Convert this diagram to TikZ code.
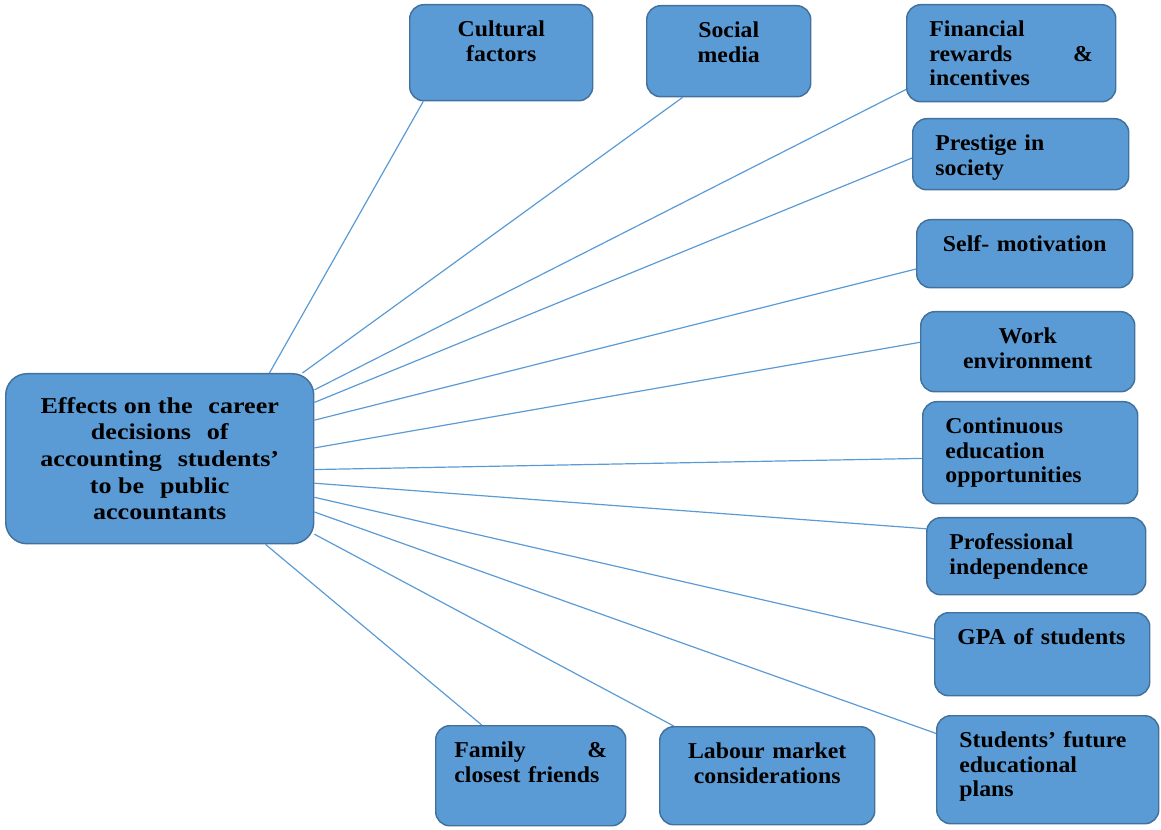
\documentclass[tikz,border=0pt]{standalone}
\usepackage{fontspec}
\setmainfont{Liberation Serif}[FakeStretch=1.05]
\newfontfamily\widefont{Liberation Serif}[FakeStretch=1.15]
\usepackage{tikz}
\definecolor{boxfill}{HTML}{5B9BD5}
\definecolor{boxline}{HTML}{41719C}
\definecolor{linkblue}{HTML}{5B9BD5}
\pgfdeclarelayer{background}
\pgfsetlayers{background,main}

\begin{document}
\begin{tikzpicture}[x=0.75pt, y=-0.75pt,
  box/.style={draw=boxline, fill=boxfill, line width=1.1pt},
  factor/.style 2 args={box, rounded corners=10.5pt, anchor=north west,
    inner xsep=17pt, inner ysep=0pt, text height=24pt,
    text width=#1*0.75pt-34pt, text depth=#2*0.75pt-24pt,
    font=\bfseries\fontsize{17}{18.4}\selectfont},
  link/.style={draw=linkblue, line width=0.9pt}]
\useasboundingbox (0,0) rectangle (1161,830);

\node[box, rounded corners=16pt, anchor=north west, minimum width=231pt, minimum height=127.5pt,
  inner sep=0pt, align=center, font=\widefont\bfseries\fontsize{17}{20}\selectfont] (Eff) at (5,373)
  {Effects on the\hspace{0.7em}career\\decisions\hspace{0.7em}of\\accounting\hspace{0.7em}students’\\to be\hspace{0.7em}public\\accountants};

\node[factor={183}{96}, align=center] (Cult) at (409,4) {Cultural\\factors};
\node[factor={164}{91}, align=center] (Soc) at (646,5) {Social\\media};
\node[factor={209}{97}, align=left] (Fin) at (906,4) {Financial\\rewards\hfill\&\\incentives};
\node[factor={216}{71}, align=left] (Pres) at (912,118) {Prestige in\\society};
\node[factor={216}{68}, align=center] (Self) at (916,219) {Self- motivation};
\node[factor={214}{80}, align=center] (Work) at (920,311) {Work\\environment};
\node[factor={215}{102}, align=left] (Cont) at (922,401) {Continuous\\education\\opportunities};
\node[factor={219}{77}, align=left] (Prof) at (926,517) {Professional\\independence};
\node[factor={215}{83}, align=left] (GPA) at (934,612) {GPA of students};
\node[factor={222}{108}, align=left] (Stud) at (936,715) {Students’ future\\educational\\plans};
\node[factor={190}{100}, align=left, inner xsep=14pt, text width=114.5pt] (Fam) at (435,725) {Family\hfill\&\\closest friends};
\node[factor={215}{98}, align=center] (Lab) at (659,726) {Labour market\\considerations};

\begin{pgfonlayer}{background}
\foreach \a/\b in {38/Cult.212, 31/Soc.225, 24/Fin.199, 20/Pres.182, 14/Self.188, 4/Work.175,
  -4/Cont.183, -9/Prof.166, -14/GPA.172, -19/Stud.162, -26/Lab.152, -39/Fam.134}
  \draw[link] (Eff.\a) -- (\b);
\end{pgfonlayer}
\end{tikzpicture}
\end{document}
